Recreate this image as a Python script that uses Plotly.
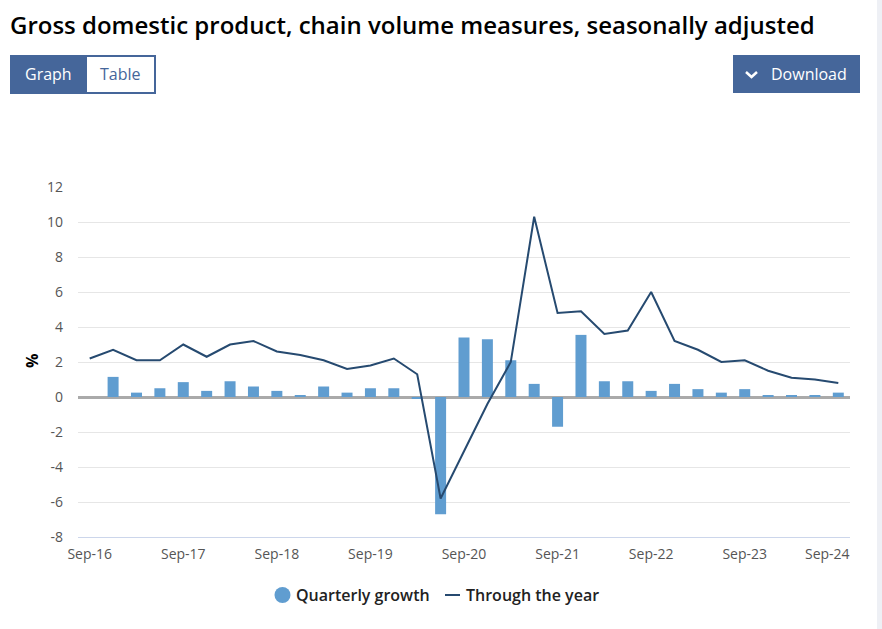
import plotly.graph_objects as go

categories = ["Sep-16","Dec-16","Mar-17","Jun-17","Sep-17","Dec-17","Mar-18","Jun-18","Sep-18","Dec-18","Mar-19",
              "Jun-19","Sep-19","Dec-19","Mar-20","Jun-20","Sep-20","Dec-20","Mar-21","Jun-21","Sep-21","Dec-21",
              "Mar-22","Jun-22","Sep-22","Dec-22","Mar-23","Jun-23","Sep-23","Dec-23","Mar-24","Jun-24","Sep-24"]
quarterly_growth = [None,1.15,0.25,0.5,0.85,0.35,0.9,0.6,0.35,0.1,0.6,0.25,0.5,0.5,-0.1,-6.7,3.4,3.3,2.1,0.75,-1.7,3.55,
                    0.9,0.9,0.35,0.75,0.45,0.25,0.45,0.1,0.1,0.1,0.25]
through_year = [2.2,2.7,2.1,2.1,3.0,2.3,3.0,3.2,2.6,2.4,2.1,1.6,1.8,2.2,1.3,-5.8,-3.1,-0.4,2.0,10.3,4.8,4.9,3.6,3.8,6.0,
                3.2,2.7,2.0,2.1,1.5,1.1,1.0,0.8]
x_ticks = ["Sep-16","Sep-17","Sep-18","Sep-19","Sep-20","Sep-21","Sep-22","Sep-23"]
y_ticks = [-8,-6,-4,-2,0,2,4,6,8,10,12]
y_labels = ["-8","-6","-4","-2","0","2","4","6","8","10","12"]

L, R, T, B = 78, 850, 187, 537
W, H = 882, 629
FONT = "Open Sans"
BLUE = "#45669a"
px = lambda x: (x - L) / (R - L)
py = lambda y: (B - y) / (B - T)

def label(x, y, text, size, color, anchor="left", weight=400, angle=0):
    return dict(xref="paper", yref="paper", x=px(x), y=py(y), text=text, showarrow=False, xanchor=anchor,
                yanchor="middle", textangle=angle,
                font=dict(family=FONT, size=size, color=color, weight=weight))

def rect(x0, y0, x1, y1, fill, line=None, lw=0):
    return dict(type="rect", xref="paper", yref="paper", x0=px(x0), x1=px(x1), y0=py(y0), y1=py(y1),
                fillcolor=fill, line=dict(color=line or fill, width=lw), layer="above")

fig = go.Figure()
fig.add_bar(x=categories, y=quarterly_growth, name="Quarterly growth", marker=dict(color="#609dd0", line=dict(width=0)))
fig.add_scatter(x=categories, y=through_year, name="Through the year", mode="lines", line=dict(color="#264a70", width=2))

shapes = [
    rect(877, 0, 882, 629, "#eef0f5"),
    rect(11, 56, 155, 93, "#ffffff", BLUE, 2),
    rect(10, 55, 87, 94, BLUE),
    rect(733, 55, 860, 93, BLUE),
    dict(type="path", xref="paper", yref="paper", layer="above", line=dict(color="#ffffff", width=2.5),
         path=f"M {px(746)} {py(72)} L {px(751.5)} {py(77)} L {px(757)} {py(72)}"),
    dict(type="circle", xref="paper", yref="paper", x0=px(274.5), x1=px(290.5), y0=py(587), y1=py(603),
         fillcolor="#609dd0", line=dict(width=0), layer="above"),
    dict(type="line", xref="paper", yref="paper", x0=px(445), x1=px(460), y0=py(595), y1=py(595),
         line=dict(color="#264a70", width=2), layer="above"),
]
annotations = [
    label(8, 24, "Gross domestic product, chain volume measures, seasonally adjusted", 24, "#000000", weight=600),
    label(48, 74, "Graph", 16, "#ffffff", "center"),
    label(120.5, 74, "Table", 16, BLUE, "center"),
    label(769, 74, "Download", 16, "#ffffff"),
    label(294, 595, "Quarterly growth", 16, "#222222", weight=600),
    label(464, 595, "Through the year", 16, "#222222", weight=600),
    label(852, 553, "Sep-24", 14, "#555555", "right"),
    label(32, 361, "%", 16, "#000000", "center", weight=700, angle=-90),
]

fig.update_layout(
    width=W, height=H, margin=dict(l=L, r=W - R, t=T, b=H - B), autosize=False,
    paper_bgcolor="#ffffff", plot_bgcolor="#ffffff", showlegend=False, bargap=0.53,
    font=dict(family=FONT, size=14, color="#555555"), shapes=shapes, annotations=annotations,
    xaxis=dict(type="category", categoryorder="array", categoryarray=categories, tickmode="array", tickvals=x_ticks,
               ticktext=x_ticks, showgrid=False, zeroline=False, showline=True, linecolor="#ccd6eb", linewidth=1, ticks="",
               range=[-0.5, 32.5], automargin=False, tickangle=0, fixedrange=True, ticklabelstandoff=4),
    yaxis=dict(range=[-8, 12], tickmode="array", tickvals=y_ticks, ticktext=y_labels, showgrid=True, gridcolor="#e6e6e6", gridwidth=1,
               zeroline=True, zerolinecolor="#aaaaaa", zerolinewidth=2.5, ticks="", showline=False, automargin=False,
               fixedrange=True, ticklabelstandoff=14),
)
fig.write_html("out.html", config={"displayModeBar": False}, post_script="document.body.style.margin='0';")
